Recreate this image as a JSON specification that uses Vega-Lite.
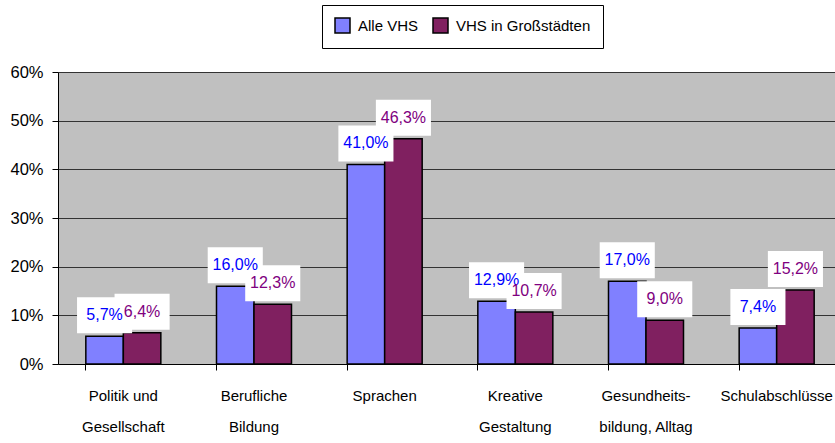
{
  "$schema": "https://vega.github.io/schema/vega-lite/v6.json",
  "width": 777,
  "height": 292,
  "autosize": {"type": "none"},
  "padding": {"left": 58, "top": 72, "right": 0, "bottom": 79},
  "background": "white",
  "config": {
    "locale": {"number": {"decimal": ",", "thousands": ".", "grouping": [3], "currency": ["", " €"]}},
    "view": {"fill": "#C0C0C0", "stroke": null},
    "font": "Liberation Sans"
  },
  "data": {
    "values": [
      {"category": "Politik und\nGesellschaft", "series": "Alle VHS", "value": 0.057},
      {"category": "Politik und\nGesellschaft", "series": "VHS in Großstädten", "value": 0.064},
      {"category": "Berufliche\nBildung", "series": "Alle VHS", "value": 0.160},
      {"category": "Berufliche\nBildung", "series": "VHS in Großstädten", "value": 0.123},
      {"category": "Sprachen", "series": "Alle VHS", "value": 0.410},
      {"category": "Sprachen", "series": "VHS in Großstädten", "value": 0.463},
      {"category": "Kreative\nGestaltung", "series": "Alle VHS", "value": 0.129},
      {"category": "Kreative\nGestaltung", "series": "VHS in Großstädten", "value": 0.107},
      {"category": "Gesundheits-\nbildung, Alltag", "series": "Alle VHS", "value": 0.170},
      {"category": "Gesundheits-\nbildung, Alltag", "series": "VHS in Großstädten", "value": 0.090},
      {"category": "Schulabschlüsse", "series": "Alle VHS", "value": 0.074},
      {"category": "Schulabschlüsse", "series": "VHS in Großstädten", "value": 0.152}
    ]
  },
  "encoding": {
    "x": {
      "field": "category", "type": "nominal", "sort": null,
      "scale": {"range": [0, 784], "paddingInner": 0.426, "paddingOuter": 0.213},
      "axis": {
        "title": null, "bandPosition": 0, "labelAngle": 0,
        "labelFont": "Liberation Sans", "labelFontSize": 15, "labelColor": "#000",
        "labelLineHeight": 31, "labelPadding": 18, "tickColor": "#000", "tickSize": 6,
        "domainColor": "#000", "grid": false, "labelExpr": "split(datum.label, '\\n')"
      }
    },
    "xOffset": {"field": "series", "type": "nominal", "sort": null, "scale": {"paddingInner": 0, "paddingOuter": 0}},
    "y": {
      "field": "value", "type": "quantitative",
      "scale": {"domain": [0, 0.6], "nice": false},
      "axis": {
        "title": null, "format": ".0%", "values": [0, 0.1, 0.2, 0.3, 0.4, 0.5, 0.6],
        "labelFont": "Liberation Sans", "labelFontSize": 16.5, "labelColor": "#000",
        "labelPadding": 9, "tickSize": 6, "tickColor": "#000", "domainColor": "#000",
        "grid": true, "gridColor": "#333", "gridOpacity": 1
      }
    }
  },
  "layer": [
    {
      "mark": {"type": "bar", "stroke": "#000", "strokeWidth": 1.5},
      "encoding": {
        "color": {
          "field": "series", "type": "nominal", "sort": null,
          "scale": {"range": ["#8080FF", "#802060"]},
          "legend": {
            "title": null, "orient": "none", "legendX": 264, "legendY": -67, "direction": "horizontal",
            "fillColor": "#fff", "strokeColor": "#000", "padding": 12,
            "symbolType": "square", "symbolSize": 225, "symbolStrokeColor": "#000", "symbolStrokeWidth": 1.5,
            "symbolOpacity": 1, "labelFont": "Liberation Sans", "labelFontSize": 15, "labelColor": "#000",
            "labelOffset": 7, "columnPadding": 11
          }
        }
      }
    },
    {
      "mark": {"type": "point", "shape": "M-1.53,-1L1.53,-1L1.53,1L-1.53,1Z", "size": 1296, "filled": true, "fill": "white", "opacity": 1, "strokeWidth": 0, "yOffset": -21}
    },
    {
      "mark": {"type": "text", "font": "Liberation Sans", "fontSize": 16, "baseline": "middle", "yOffset": -21},
      "encoding": {
        "text": {"field": "value", "type": "quantitative", "format": ".1%"},
        "color": {"condition": {"test": "datum.series == 'Alle VHS'", "value": "#0000FF"}, "value": "#800080"}
      }
    }
  ]
}
